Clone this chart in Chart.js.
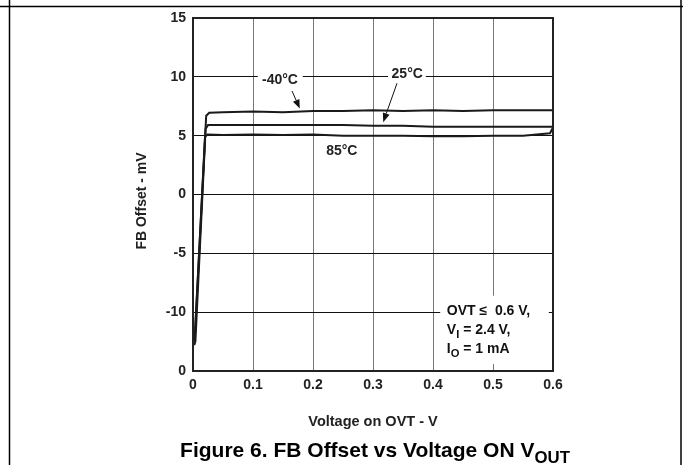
<!DOCTYPE html>
<html>
<head>
<meta charset="utf-8">
<script src="https://cdn.jsdelivr.net/npm/chart.js@4.4.1/dist/chart.umd.min.js"></script>
<style>
  html, body { margin: 0; padding: 0; background: #fff; }
  #wrap { width: 683px; height: 465px; position: relative; }
</style>
</head>
<body>
<div id="wrap"><canvas id="chart1" width="683" height="465"></canvas></div>
<script>
// data (x = voltage on OVT in V, y = FB offset in mV)
const xM40 = [0.002, 0.003, 0.022, 0.027, 0.05, 0.1, 0.15, 0.2, 0.25, 0.3, 0.35, 0.4, 0.45, 0.5, 0.55, 0.6];
const yM40 = [-12.3, -12.0, 6.7, 6.95, 7.0, 7.05, 7.0, 7.1, 7.1, 7.15, 7.1, 7.15, 7.1, 7.15, 7.15, 7.15];
const x25 = [0.002, 0.004, 0.021, 0.025, 0.05, 0.1, 0.15, 0.2, 0.25, 0.3, 0.35, 0.4, 0.45, 0.5, 0.55, 0.6];
const y25 = [-12.8, -12.5, 5.6, 5.9, 5.9, 5.9, 5.9, 5.9, 5.9, 5.85, 5.85, 5.75, 5.75, 5.75, 5.75, 5.75];
const x85 = [0.001, 0.003, 0.02, 0.024, 0.05, 0.1, 0.15, 0.2, 0.25, 0.3, 0.35, 0.4, 0.45, 0.5, 0.55, 0.595, 0.6];
const y85 = [-12.5, -12.2, 4.9, 5.1, 5.05, 5.1, 5.05, 5.1, 5.0, 5.0, 5.0, 4.95, 4.95, 5.0, 5.0, 5.2, 5.7];

// y tick labels as printed (bottom one reads "0" in the original)
const yTickLabels = {"15": "15", "10": "10", "5": "5", "0": "0", "-5": "-5", "-10": "-10", "-15": "0"};
const xTickLabels = ["0", "0.1", "0.2", "0.3", "0.4", "0.5", "0.6"];

const FONT = "'Liberation Sans', Arial, sans-serif";

function pts(xs, ys) {
  return xs.map((x, i) => ({ x: x, y: ys[i] }));
}

function mkSet(label, xs, ys) {
  return {
    label: label,
    data: pts(xs, ys),
    borderColor: '#1a1a1a',
    borderWidth: 2,
    fill: false,
    pointRadius: 0,
    tension: 0
  };
}

// text with a subscript part: parts = [[text, isSub], ...]
function drawParts(ctx, parts, x, y, size, align) {
  let total = 0;
  parts.forEach(p => {
    ctx.font = 'bold ' + (p[1] ? size * 0.8 : size) + 'px ' + FONT;
    total += ctx.measureText(p[0]).width;
  });
  let cx = align === 'center' ? x - total / 2 : x;
  ctx.textAlign = 'left';
  ctx.textBaseline = 'middle';
  parts.forEach(p => {
    ctx.font = 'bold ' + (p[1] ? size * 0.8 : size) + 'px ' + FONT;
    ctx.fillText(p[0], cx, p[1] ? y + size * 0.35 : y);
    cx += ctx.measureText(p[0]).width;
  });
}

function arrow(ctx, x1, y1, x2, y2) {
  const a = Math.atan2(y2 - y1, x2 - x1);
  const L = 9, W = 3.5;
  ctx.beginPath();
  ctx.moveTo(x1, y1);
  ctx.lineTo(x2 - L * Math.cos(a), y2 - L * Math.sin(a));
  ctx.lineWidth = 1;
  ctx.strokeStyle = '#111';
  ctx.stroke();
  ctx.beginPath();
  ctx.moveTo(x2, y2);
  ctx.lineTo(x2 - L * Math.cos(a) + W * Math.sin(a), y2 - L * Math.sin(a) - W * Math.cos(a));
  ctx.lineTo(x2 - L * Math.cos(a) - W * Math.sin(a), y2 - L * Math.sin(a) + W * Math.cos(a));
  ctx.closePath();
  ctx.fillStyle = '#111';
  ctx.fill();
}

const notes = {
  id: 'notes',
  beforeDatasetsDraw(chart) {
    const ctx = chart.ctx;
    const xs = chart.scales.x, ys = chart.scales.y;
    const px = v => xs.getPixelForValue(v), py = v => ys.getPixelForValue(v);
    ctx.save();
    // white gaps in the grid behind the labels
    ctx.fillStyle = '#fff';
    ctx.fillRect(px(0.108), py(10.9), px(0.183) - px(0.108), py(8.6) - py(10.9));
    ctx.fillRect(px(0.325), py(11.2), px(0.388) - px(0.325), py(9.2) - py(11.2));
    ctx.fillRect(px(0.412), py(-8.6), px(0.593) - px(0.412), py(-14.4) - py(-8.6));
    ctx.fillStyle = '#222';
    drawParts(ctx, [['-40°C', false]], px(0.145), py(9.7), 14, 'center');
    drawParts(ctx, [['25°C', false]], px(0.357), py(10.2), 14, 'center');
    drawParts(ctx, [['85°C', false]], px(0.248), py(3.66), 14, 'center');
    arrow(ctx, px(0.165), py(8.8), px(0.178), py(7.3));
    arrow(ctx, px(0.34), py(9.45), px(0.317), py(6.15));
    drawParts(ctx, [['OVT \u2264  0.6 V,', false]], px(0.423), py(-9.95), 14, 'left');
    drawParts(ctx, [['V', false], ['I', true], [' = 2.4 V,', false]], px(0.423), py(-11.5), 14, 'left');
    drawParts(ctx, [['I', false], ['O', true], [' = 1 mA', false]], px(0.423), py(-13.1), 14, 'left');
    ctx.restore();
  },
  afterDraw(chart) {
    const ctx = chart.ctx;
    const a = chart.chartArea;
    ctx.save();
    // plot frame
    ctx.strokeStyle = '#222';
    ctx.lineWidth = 2;
    ctx.strokeRect(a.left, a.top, a.right - a.left, a.bottom - a.top);
    // page frame of the datasheet
    ctx.lineWidth = 1.5;
    ctx.strokeStyle = '#000';
    ctx.beginPath();
    ctx.moveTo(0, 6.5); ctx.lineTo(683, 6.5);
    ctx.moveTo(9.5, 0); ctx.lineTo(9.5, 465);
    ctx.moveTo(681, 0); ctx.lineTo(681, 465);
    ctx.stroke();
    // y axis title
    ctx.save();
    ctx.translate(142, 201);
    ctx.rotate(-Math.PI / 2);
    ctx.fillStyle = '#222';
    drawParts(ctx, [['FB Offset - mV', false]], 0, 0, 14, 'center');
    ctx.restore();
    // figure caption
    ctx.fillStyle = '#000';
    drawParts(ctx, [['Figure 6. FB Offset vs Voltage ON V', false], ['OUT', true]], 375, 451, 21, 'center');
    ctx.restore();
  }
};

const chart = new Chart(document.getElementById('chart1').getContext('2d'), {
  type: 'line',
  data: {
    datasets: [
      mkSet('-40°C', xM40, yM40),
      mkSet('25°C', x25, y25),
      mkSet('85°C', x85, y85)
    ]
  },
  options: {
    responsive: false,
    animation: false,
    layout: { padding: { left: 0, right: 130, top: 18, bottom: 0 } },
    plugins: { legend: { display: false }, tooltip: { enabled: false } },
    scales: {
      x: {
        type: 'linear',
        min: 0, max: 0.6,
        afterFit: s => { s.height = 94; },
        afterBuildTicks: s => { s.ticks = xTickLabels.map(t => ({ value: parseFloat(t) })); },
        ticks: {
          padding: 6,
          color: '#222',
          font: { family: FONT, size: 14, weight: 'bold' },
          callback: (v, i) => xTickLabels[i]
        },
        grid: { color: '#777', lineWidth: 1, drawTicks: false },
        border: { display: false },
        title: {
          display: true,
          text: 'Voltage on OVT - V',
          color: '#222',
          font: { family: FONT, size: 14.5, weight: 'bold' },
          padding: { top: 0, bottom: 34 }
        }
      },
      y: {
        type: 'linear',
        min: -15, max: 15,
        afterFit: s => { s.width = 193; },
        ticks: {
          stepSize: 5,
          padding: 7,
          color: '#222',
          font: { family: FONT, size: 14, weight: 'bold' },
          callback: v => yTickLabels[String(v)]
        },
        grid: { color: '#111', lineWidth: 1, drawTicks: false },
        border: { display: false }
      }
    }
  },
  plugins: [notes]
});
</script>
</body>
</html>
